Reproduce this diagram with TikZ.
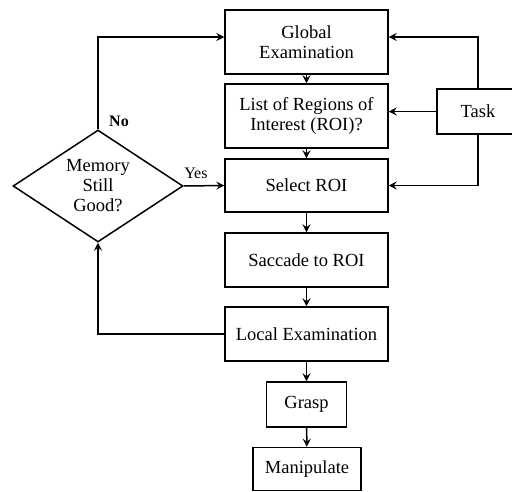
\documentclass[tikz,border=0pt]{standalone}
\usepackage{fontspec}
\setmainfont{Liberation Serif}
\usetikzlibrary{shapes.geometric,arrows.meta}

\begin{document}
\begin{tikzpicture}[x=1pt,y=-1pt,line width=1.5pt,
  font=\fontsize{18.5}{20}\selectfont,
  box/.style={draw,rectangle,align=center,inner sep=0pt,minimum width=163pt},
  decision/.style={draw,diamond,align=center,inner sep=0pt,aspect=1.52,minimum width=170pt,minimum height=112pt},
  flow/.style={-{Stealth[length=8pt,width=8pt,inset=3pt]}},
  lbl/.style={font=\fontsize{16}{18}\selectfont}]
\useasboundingbox (0,0) rectangle (512,491);
\node[box,minimum height=64pt] (glob) at (306.5,42) {Global\\Examination};
\node[box,minimum height=64pt] (roi) at (306.5,116) {List of Regions of\\Interest (ROI)?};
\node[box,minimum height=53pt] (sel) at (306.5,185.5) {Select ROI};
\node[box,minimum height=54pt] (sac) at (306.5,260) {Saccade to ROI};
\node[box,minimum height=54pt] (loc) at (306.5,334) {Local Examination};
\node[box,minimum width=80pt,minimum height=45pt] (grasp) at (306.5,404.5) {Grasp};
\node[box,minimum width=108pt,minimum height=43pt] (manip) at (307,469) {Manipulate};
\node[box,minimum width=82pt,minimum height=45pt] (task) at (478,111.5) {Task};
\node[decision] (mem) at (98,186) {Memory\\Still\\Good?};
\draw[flow] (glob) -- (roi);
\draw[flow] (roi) -- (sel);
\draw[flow] (sel) -- (sac);
\draw[flow] (sac) -- (loc);
\draw[flow] (loc) -- (grasp);
\draw[flow] (grasp) -- (manip);
\draw[flow] (mem.north) |- ([yshift=5pt]glob.west) node[pos=0,xshift=21pt,yshift=8pt,font=\bfseries\fontsize{16}{18}\selectfont] (no) {No};
\draw[flow] (mem.east) -- (sel.west) node[lbl,pos=0.3,above=3pt] (yes) {Yes};
\draw[flow] (loc.west) -| (mem.south);
\draw[flow] (task.north) |- ([yshift=5pt]glob.east);
\draw[flow] (task.west) -- (task.west -| roi.east);
\draw[flow] (task.south) |- (sel.east);
\end{tikzpicture}
\end{document}
